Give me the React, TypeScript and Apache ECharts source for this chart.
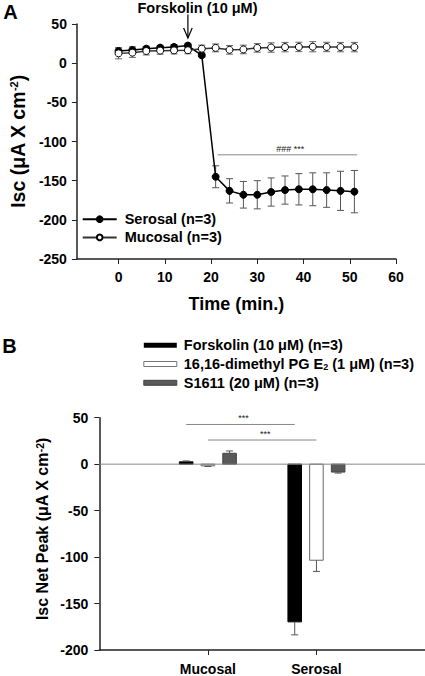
import React, { useEffect, useRef } from "react";
import * as echarts from "echarts";

const FONT = '"Liberation Sans", Arial, Helvetica, sans-serif';

// ---- Panel A data ----
const timeMin = [0, 3, 6, 9, 12, 15, 18, 21, 24, 27, 30, 33, 36, 39, 42, 45, 48, 51];
const serosalIsc = [15.5, 16.8, 18.5, 19.8, 20.7, 22.4, 10, -145, -163, -168, -168, -164.5, -162, -161, -161, -162, -163, -164];
const serosalErr = [4, 4, 3, 3, 3, 3, 2, 14, 15.5, 17, 18, 18, 18, 20, 21, 22, 25, 27];
const mucosalIsc = [12.5, 13.4, 15.5, 16, 16.3, 16.5, 18.5, 19.5, 17, 17.5, 19.5, 20, 20.5, 20.7, 21, 20.7, 20.5, 20.5];
const mucosalErr = [7, 6, 5, 4.5, 4.5, 4.5, 4.5, 5, 5.5, 5.5, 5.5, 6, 6, 6, 6.5, 6, 6, 6];
const timeTicks = [0, 10, 20, 30, 40, 50, 60];
const sigStartA = [21.4];
const sigEndA = [51.6];
const sigLevelA = [-117];
const sigLabelA = ["### ***"];
const forskolinTime = [15];
const arrowFrom = [62];
const arrowTo = [32];

// ---- Panel B data ----
const peakCategories = ["Mucosal", "Serosal"];
const peakTickPos = [1, 2];
const forskolinPeak = [2.5, -169.7];
const forskolinPeakErr = [1, 14];
const pgePeak = [-1.8, -103.4];
const pgePeakErr = [0.7, 12];
const s1611Peak = [11.7, -8.5];
const s1611PeakErr = [2.5, 1.1];
const sigStartB = [0.8, 1.0];
const sigEndB = [1.8, 2.0];
const sigLevelB = [42.7, 26];
const sigLabelB = ["***", "***"];

const NAME_SEROSAL = "Serosal (n=3)";
const NAME_MUCOSAL = "Mucosal (n=3)";
const NAME_FSK = "Forskolin (10 μM) (n=3)";
const NAME_PGE = "16,16-dimethyl PG E2 (1 μM) (n=3)";
const NAME_S1611 = "S1611 (20 μM) (n=3)";

const AXIS_COLOR = "#222";

function errBarSeries(name: string, xs: number[], ys: number[], es: number[], color: string) {
  return {
    type: "custom",
    name,
    xAxisIndex: 0,
    yAxisIndex: 0,
    silent: true,
    z: 1,
    data: xs.map((t, i) => [t, ys[i] - es[i], ys[i] + es[i]]),
    renderItem: (params: any, api: any) => {
      const lo = api.coord([api.value(0), api.value(1)]);
      const hi = api.coord([api.value(0), api.value(2)]);
      const hw = 3.5;
      const style = { stroke: color, lineWidth: 1 };
      return {
        type: "group",
        children: [
          { type: "line", shape: { x1: lo[0], y1: lo[1], x2: hi[0], y2: hi[1] }, style },
          { type: "line", shape: { x1: lo[0] - hw, y1: lo[1], x2: lo[0] + hw, y2: lo[1] }, style },
          { type: "line", shape: { x1: hi[0] - hw, y1: hi[1], x2: hi[0] + hw, y2: hi[1] }, style },
        ],
      };
    },
  };
}

function barSeries(name: string, offset: number, vals: number[], errs: number[], fill: string, stroke: string) {
  return {
    type: "custom",
    name,
    xAxisIndex: 1,
    yAxisIndex: 1,
    silent: true,
    itemStyle: { color: fill, borderColor: stroke },
    data: peakTickPos.map((p, i) => [p + offset, vals[i], errs[i]]),
    renderItem: (params: any, api: any) => {
      const x = api.value(0);
      const v = api.value(1);
      const e = api.value(2);
      const base = api.coord([x, 0]);
      const top = api.coord([x, v]);
      const end = api.coord([x, v + Math.sign(v) * e]);
      const w = api.size([0.125, 0])[0];
      const hw = 3.5;
      const es = { stroke: "#555", lineWidth: 1 };
      return {
        type: "group",
        children: [
          {
            type: "rect",
            shape: { x: base[0] - w / 2, y: Math.min(base[1], top[1]), width: w, height: Math.abs(top[1] - base[1]) },
            style: { fill, stroke, lineWidth: 1 },
          },
          { type: "line", shape: { x1: top[0], y1: top[1], x2: end[0], y2: end[1] }, style: es },
          { type: "line", shape: { x1: end[0] - hw, y1: end[1], x2: end[0] + hw, y2: end[1] }, style: es },
        ],
      };
    },
  };
}

function sigSeries(xi: number, yi: number, starts: number[], ends: number[], levels: number[], labels: string[]) {
  return {
    type: "custom",
    name: "sig" + xi,
    xAxisIndex: xi,
    yAxisIndex: yi,
    silent: true,
    data: starts.map((s, i) => [s, ends[i], levels[i], labels[i]]),
    renderItem: (params: any, api: any) => {
      const a = api.coord([api.value(0), api.value(2)]);
      const b = api.coord([api.value(1), api.value(2)]);
      const label = labels[params.dataIndex];
      return {
        type: "group",
        children: [
          { type: "line", shape: { x1: a[0], y1: a[1], x2: b[0], y2: b[1] }, style: { stroke: "#888", lineWidth: 1 } },
          {
            type: "text",
            x: (a[0] + b[0]) / 2 + 3,
            y: a[1] - 1.5,
            style: { text: label, align: "center", verticalAlign: "bottom", fontSize: 9, fontFamily: FONT, fill: "#222" },
          },
        ],
      };
    },
  };
}

export default function App() {
  const ref = useRef<HTMLDivElement>(null);
  useEffect(() => {
    document.body.style.margin = "0";
    if (!ref.current) return;
    const chart = echarts.init(ref.current, null, { renderer: "svg" });

    const axisLabelStyle = { fontSize: 14, fontWeight: "bold", color: "#000", fontFamily: FONT };
    const supRich = { sup: { fontSize: 11, fontWeight: "bold", fontFamily: FONT, color: "#000", verticalAlign: "top" } };
    const nameStyle = (size: number) => ({
      fontSize: size,
      fontWeight: "bold",
      color: "#000",
      fontFamily: FONT,
      rich: supRich,
    });

    const option: any = {
      animation: false,
      textStyle: { fontFamily: FONT },
      grid: [
        { left: 71, top: 24, width: 325, height: 235 },
        { left: 99.3, top: 417.7, width: 326, height: 234 },
      ],
      xAxis: [
        {
          type: "value",
          gridIndex: 0,
          min: -9,
          max: 60,
          name: "Time (min.)",
          nameLocation: "middle",
          nameGap: 36,
          nameTextStyle: nameStyle(18),
          axisLine: { onZero: false, lineStyle: { color: AXIS_COLOR, width: 1.5 } },
          axisTick: { show: true, customValues: timeTicks, length: 5, lineStyle: { color: AXIS_COLOR } },
          axisLabel: { ...axisLabelStyle, customValues: timeTicks, margin: 11 },
          splitLine: { show: false },
        },
        {
          type: "value",
          gridIndex: 1,
          min: 0,
          max: 3,
          axisLine: { onZero: false, lineStyle: { color: AXIS_COLOR, width: 1.5 } },
          axisTick: { show: true, customValues: peakTickPos, length: 5, lineStyle: { color: AXIS_COLOR } },
          axisLabel: {
            ...axisLabelStyle,
            customValues: peakTickPos,
            margin: 12,
            formatter: (v: number) => {
              const i = peakTickPos.indexOf(v);
              return i >= 0 ? peakCategories[i] : "";
            },
          },
          splitLine: { show: false },
        },
      ],
      yAxis: [
        {
          type: "value",
          gridIndex: 0,
          min: -250,
          max: 50,
          interval: 50,
          name: "Isc (μA X cm{sup|-2})",
          nameLocation: "middle",
          nameRotate: 90,
          nameGap: 48,
          nameTextStyle: nameStyle(19.5),
          axisLine: { show: true, onZero: false, lineStyle: { color: AXIS_COLOR, width: 1.5 } },
          axisTick: { show: true, length: 5, lineStyle: { color: AXIS_COLOR } },
          axisLabel: { ...axisLabelStyle, margin: 10 },
          splitLine: { show: false },
        },
        {
          type: "value",
          gridIndex: 1,
          min: -200,
          max: 50,
          interval: 50,
          axisLine: { show: true, onZero: false, lineStyle: { color: AXIS_COLOR, width: 1.5 } },
          axisTick: { show: true, length: 5, lineStyle: { color: AXIS_COLOR } },
          axisLabel: { ...axisLabelStyle, margin: 11 },
          splitLine: { show: false },
        },
      ],
      legend: [
        {
          data: [NAME_SEROSAL, NAME_MUCOSAL],
          orient: "vertical",
          left: 81.7,
          top: 211.7,
          padding: 0,
          itemWidth: 34,
          itemHeight: 7,
          itemGap: 3.2,
          selectedMode: false,
          textStyle: { fontSize: 14.5, fontWeight: "bold", color: "#000", fontFamily: FONT, padding: [0, 0, 0, 3] },
        },
        {
          data: [
            { name: NAME_FSK, icon: "rect", itemStyle: { color: "#000", borderColor: "#000", borderWidth: 0 } },
            { name: NAME_PGE, icon: "rect", itemStyle: { color: "#fff", borderColor: "#777", borderWidth: 1 } },
            { name: NAME_S1611, icon: "rect", itemStyle: { color: "#595959", borderColor: "#444", borderWidth: 1 } },
          ],
          orient: "vertical",
          left: 143.3,
          top: 337.7,
          padding: 0,
          itemWidth: 33,
          itemHeight: 5,
          itemGap: 3.8,
          selectedMode: false,
          formatter: (name: string) => (name === NAME_PGE ? "16,16-dimethyl PG E{sub|2} (1 μM) (n=3)" : name),
          textStyle: {
            fontSize: 14.5,
            fontWeight: "bold",
            color: "#000",
            fontFamily: FONT,
            padding: [0, 0, 0, 2],
            rich: { sub: { fontSize: 9, fontWeight: "bold", fontFamily: FONT, color: "#000", verticalAlign: "bottom" } },
          },
        },
      ],
      graphic: [
        { type: "text", x: 10.5, y: 12, style: { text: "A", align: "center", verticalAlign: "middle", fontSize: 20, fontWeight: "bold", fontFamily: FONT, fill: "#000" } },
        { type: "text", x: 9.5, y: 346, style: { text: "B", align: "center", verticalAlign: "middle", fontSize: 20, fontWeight: "bold", fontFamily: FONT, fill: "#000" } },
        { type: "text", x: 197.5, y: 7.5, style: { text: "Forskolin (10 μM)", align: "center", verticalAlign: "middle", fontSize: 14.5, fontWeight: "bold", fontFamily: FONT, fill: "#000" } },
        {
          type: "text",
          x: 42,
          y: 529,
          rotation: Math.PI / 2,
          style: {
            text: "Isc Net Peak (μA X cm{sup|-2})",
            align: "center",
            verticalAlign: "middle",
            fontSize: 16,
            fontWeight: "bold",
            fontFamily: FONT,
            fill: "#000",
            rich: { sup: { fontSize: 10.5, fontWeight: "bold", fontFamily: FONT, fill: "#000", verticalAlign: "top" } },
          },
        },
      ],
      series: [
        errBarSeries("serosalErr", timeMin, serosalIsc, serosalErr, "#555"),
        errBarSeries("mucosalErr", timeMin, mucosalIsc, mucosalErr, "#666"),
        {
          type: "line",
          name: NAME_SEROSAL,
          xAxisIndex: 0,
          yAxisIndex: 0,
          z: 3,
          data: timeMin.map((t, i) => [t, serosalIsc[i]]),
          symbol: "circle",
          symbolSize: 7,
          itemStyle: { color: "#000", borderColor: "#000", borderWidth: 1 },
          lineStyle: { color: "#000", width: 1.5 },
        },
        {
          type: "line",
          name: NAME_MUCOSAL,
          xAxisIndex: 0,
          yAxisIndex: 0,
          z: 4,
          data: timeMin.map((t, i) => [t, mucosalIsc[i]]),
          symbol: "circle",
          symbolSize: 7,
          itemStyle: { color: "#fff", borderColor: "#000", borderWidth: 1 },
          lineStyle: { color: "#333", width: 1.5 },
        },
        sigSeries(0, 0, sigStartA, sigEndA, sigLevelA, sigLabelA),
        {
          type: "custom",
          name: "arrow",
          xAxisIndex: 0,
          yAxisIndex: 0,
          silent: true,
          data: forskolinTime.map((t, i) => [t, arrowFrom[i], arrowTo[i]]),
          renderItem: (params: any, api: any) => {
            const a = api.coord([api.value(0), api.value(1)]);
            const b = api.coord([api.value(0), api.value(2)]);
            const st = { stroke: "#000", lineWidth: 1.2, fill: "none" };
            return {
              type: "group",
              children: [
                { type: "line", shape: { x1: a[0], y1: a[1], x2: b[0], y2: b[1] }, style: st },
                { type: "polyline", shape: { points: [[b[0] - 4.3, b[1] - 10], [b[0], b[1]], [b[0] + 4.3, b[1] - 10]] }, style: st },
              ],
            };
          },
        },
        {
          type: "line",
          name: "zeroLine",
          xAxisIndex: 1,
          yAxisIndex: 1,
          silent: true,
          symbol: "none",
          data: [[0, 0], [3, 0]],
          lineStyle: { color: "#888", width: 1 },
        },
        barSeries(NAME_FSK, -0.2, forskolinPeak, forskolinPeakErr, "#000", "#000"),
        barSeries(NAME_PGE, 0, pgePeak, pgePeakErr, "#fff", "#666"),
        barSeries(NAME_S1611, 0.2, s1611Peak, s1611PeakErr, "#595959", "#444"),
        sigSeries(1, 1, sigStartB, sigEndB, sigLevelB, sigLabelB),
      ],
    };
    chart.setOption(option);
    return () => chart.dispose();
  }, []);
  return <div ref={ref} style={{ width: 425, height: 676 }} />;
}
